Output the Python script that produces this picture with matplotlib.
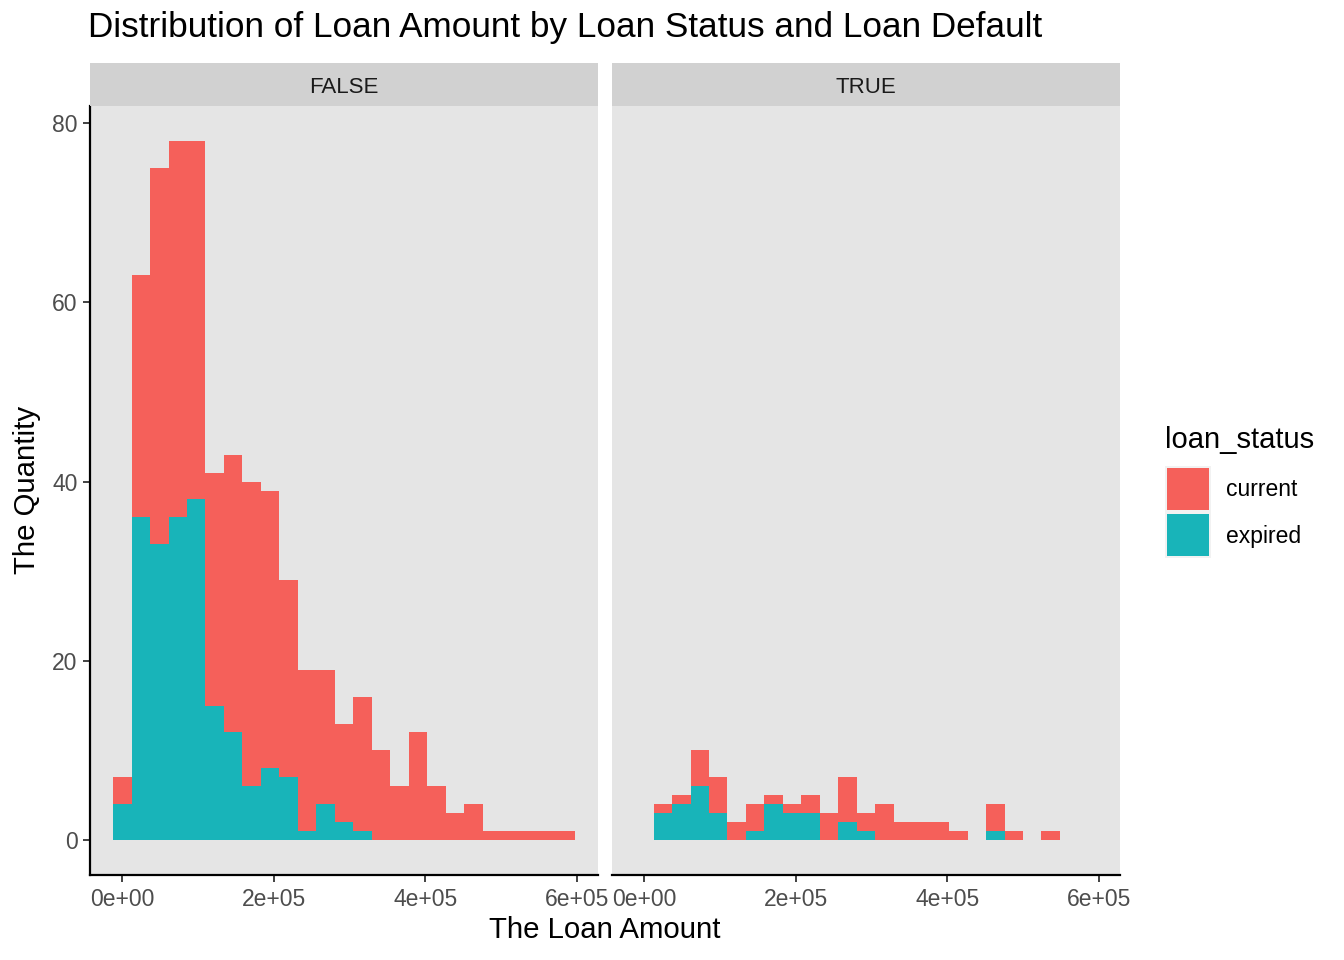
import matplotlib
matplotlib.use("Agg")
import matplotlib.pyplot as plt
from matplotlib.patches import Rectangle
import numpy as np

plt.rcParams['font.family'] = ['Liberation Sans', 'DejaVu Sans']

# histogram counts per bin (bins centred on k * bin_width)
bin_width = 24400
n_bins = 25
facets = ["FALSE", "TRUE"]
statuses = ["current", "expired"]

false_current = [3, 27, 42, 42, 40, 26, 31, 34, 31, 22, 18, 15, 11, 15, 10, 6, 12, 6, 3, 4, 1, 1, 1, 1, 1]
false_expired = [4, 36, 33, 36, 38, 15, 12, 6, 8, 7, 1, 4, 2, 1, 0, 0, 0, 0, 0, 0, 0, 0, 0, 0, 0]
true_current = [0, 1, 1, 4, 4, 2, 3, 1, 1, 2, 3, 5, 2, 4, 2, 2, 2, 1, 0, 3, 1, 0, 1, 0, 0]
true_expired = [0, 3, 4, 6, 3, 0, 1, 4, 3, 3, 0, 2, 1, 0, 0, 0, 0, 0, 0, 1, 0, 0, 0, 0, 0]

x_ticks = [0, 200000, 400000, 600000]
x_tick_labels = ["0e+00", "2e+05", "4e+05", "6e+05"]
y_ticks = [0, 20, 40, 60, 80]

col_current = "#F5605A"
col_expired = "#18B4B9"
panel_bg = "#E5E5E5"
strip_bg = "#D1D1D1"

W, H = 1344, 960
fig = plt.figure(figsize=(W / 100, H / 100), dpi=100)

def fx(px):
    return px / W

def fy(py):
    return 1 - py / H

centers = np.arange(n_bins) * bin_width
lo = centers[0] - bin_width / 2
hi = centers[-1] + bin_width / 2
xpad = (hi - lo) * 0.05
ymax = max(np.array(false_current) + np.array(false_expired))
ypad = ymax * 0.05

data = {
    "FALSE": (false_current, false_expired),
    "TRUE": (true_current, true_expired),
}
panel_left = [90, 612]
panel_w = 508
panel_top, panel_bot = 106, 875

for i, name in enumerate(facets):
    cur, exp = data[name]
    ax = fig.add_axes([fx(panel_left[i]), fy(panel_bot), fx(panel_w), (panel_bot - panel_top) / H])
    ax.set_facecolor(panel_bg)
    ax.bar(centers, exp, width=bin_width, color=col_expired, linewidth=0)
    ax.bar(centers, cur, width=bin_width, bottom=exp, color=col_current, linewidth=0)
    ax.set_xlim(lo - xpad, hi + xpad)
    ax.set_ylim(-ypad, ymax + ypad)
    ax.set_xticks(x_ticks)
    ax.set_xticklabels(x_tick_labels)
    for s in ["top", "right"]:
        ax.spines[s].set_visible(False)
    ax.spines["bottom"].set_linewidth(1.6)
    ax.spines["bottom"].set_color("black")
    ax.tick_params(axis="x", length=5, width=1.3, color="#333333", labelsize=16.5,
                   labelcolor="#4D4D4D", pad=4)
    if i == 0:
        ax.spines["left"].set_linewidth(1.6)
        ax.spines["left"].set_color("black")
        ax.set_yticks(y_ticks)
        ax.tick_params(axis="y", length=5, width=1.3, color="#333333", labelsize=16.5,
                       labelcolor="#4D4D4D", pad=4)
    else:
        ax.spines["left"].set_visible(False)
        ax.set_yticks([])

    # facet strip
    sax = fig.add_axes([fx(panel_left[i]), fy(panel_top), fx(panel_w), 43 / H])
    sax.set_facecolor(strip_bg)
    sax.set_xticks([])
    sax.set_yticks([])
    for s in sax.spines.values():
        s.set_visible(False)
    sax.text(0.5, 0.44, name, ha="center", va="center", fontsize=16, color="#1A1A1A",
             transform=sax.transAxes)

fig.text(fx(88), fy(28), "Distribution of Loan Amount by Loan Status and Loan Default",
         ha="left", va="center", fontsize=25.3, color="black")
fig.text(fx(605), fy(930), "The Loan Amount", ha="center", va="center", fontsize=21.2)
fig.text(fx(27), fy(490), "The Quantity", ha="center", va="center", fontsize=21.2, rotation=90)

# legend
fig.text(fx(1165), fy(440), "loan_status", ha="left", va="center", fontsize=21)
key_cols = [col_current, col_expired]
for j, lab in enumerate(statuses):
    top = 466 + j * 46
    fig.add_artist(Rectangle((fx(1165), fy(top + 46)), fx(46), 46 / H,
                             transform=fig.transFigure, facecolor="#F2F2F2", edgecolor="none"))
    fig.add_artist(Rectangle((fx(1167), fy(top + 44)), fx(42), 42 / H,
                             transform=fig.transFigure, facecolor=key_cols[j], edgecolor="none"))
    fig.text(fx(1226), fy(top + 24), lab, ha="left", va="center", fontsize=16.5)

fig.savefig("out.png", dpi=100)
